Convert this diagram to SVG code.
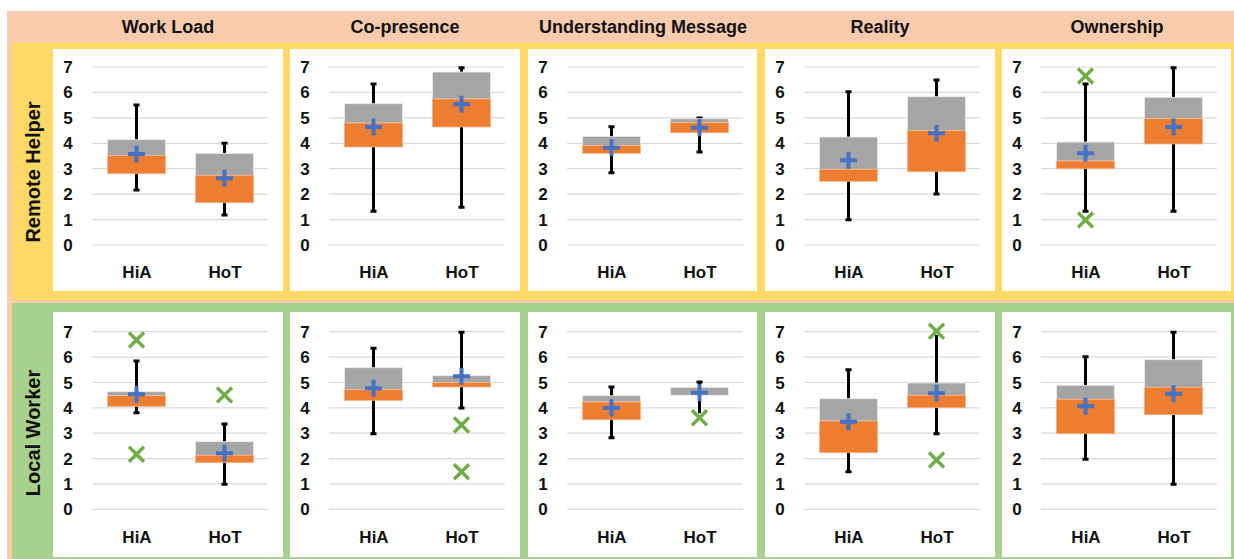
<svg xmlns="http://www.w3.org/2000/svg" xmlns:xlink="http://www.w3.org/1999/xlink" width="1234" height="559" viewBox="0 0 1234 559">
<style>
.t{font-family:"Liberation Sans",Arial,sans-serif;font-weight:bold;fill:#111}
.hd{font-size:18px;text-anchor:middle}
.rl{font-size:20px;text-anchor:middle}
.tk{font-size:17px;text-anchor:middle}
.xl{font-size:17px;text-anchor:middle}
.grid{stroke:#D9D9D9;stroke-width:1.2}
.panel{fill:#fff}
.q3{fill:#A5A5A5;stroke:#EDEDED;stroke-width:0.8}
.q1{fill:#ED7D31;stroke:#F4B183;stroke-width:0.8}
.wh{stroke:#000;stroke-width:3;fill:none}
.mean{stroke:#4472C4;stroke-width:4;fill:none}
.out{stroke:#70AD47;stroke-width:3.5;fill:none}
</style>
<defs>
<path id="plus" d="M-8.5,0H8.5M0,-8.5V8.5" class="mean"/>
<path id="cross" d="M-7.5,-7.5L7.5,7.5M-7.5,7.5L7.5,-7.5" class="out"/>
<g id="gridU" class="grid">
<line x1="39" x2="215" y1="245" y2="245"/><line x1="39" x2="215" y1="219.6" y2="219.6"/><line x1="39" x2="215" y1="194.1" y2="194.1"/><line x1="39" x2="215" y1="168.7" y2="168.7"/><line x1="39" x2="215" y1="143.3" y2="143.3"/><line x1="39" x2="215" y1="117.9" y2="117.9"/><line x1="39" x2="215" y1="92.4" y2="92.4"/><line x1="39" x2="215" y1="67" y2="67"/>
</g>
<g id="ticksU" class="t tk">
<text x="15" y="251">0</text><text x="15" y="225.6">1</text><text x="15" y="200.1">2</text><text x="15" y="174.7">3</text><text x="15" y="149.3">4</text><text x="15" y="123.9">5</text><text x="15" y="98.4">6</text><text x="15" y="73">7</text>
<text x="84" y="278">HiA</text><text x="172" y="278">HoT</text>
</g>
<g id="gridL" class="grid">
<line x1="39" x2="215" y1="509.3" y2="509.3"/><line x1="39" x2="215" y1="483.9" y2="483.9"/><line x1="39" x2="215" y1="458.6" y2="458.6"/><line x1="39" x2="215" y1="433.2" y2="433.2"/><line x1="39" x2="215" y1="407.8" y2="407.8"/><line x1="39" x2="215" y1="382.5" y2="382.5"/><line x1="39" x2="215" y1="357.1" y2="357.1"/><line x1="39" x2="215" y1="331.7" y2="331.7"/>
</g>
<g id="ticksL" class="t tk">
<text x="15" y="515.3">0</text><text x="15" y="489.9">1</text><text x="15" y="464.6">2</text><text x="15" y="439.2">3</text><text x="15" y="413.8">4</text><text x="15" y="388.5">5</text><text x="15" y="363.1">6</text><text x="15" y="337.7">7</text>
<text x="84" y="543">HiA</text><text x="172" y="543">HoT</text>
</g>
</defs>

<g id="background">
<rect x="7" y="11" width="1227" height="548" fill="#F8CBAD"/>
<rect x="12" y="43" width="1222" height="257" fill="#FFD966"/>
<rect x="12" y="303" width="1222" height="256" fill="#A9D18E"/>
</g>

<g id="headers" class="t hd">
<text x="168" y="33">Work Load</text>
<text x="405" y="33">Co-presence</text>
<text x="643" y="33">Understanding Message</text>
<text x="880" y="33">Reality</text>
<text x="1117" y="33">Ownership</text>
</g>
<g id="row-labels" class="t rl">
<text transform="translate(40,172) rotate(-90)">Remote Helper</text>
<text transform="translate(40,433) rotate(-90)">Local Worker</text>
</g>

<!-- Remote Helper row -->
<g id="rh-workload">
<rect class="panel" x="53" y="49" width="230" height="242"/>
<use href="#gridU" x="53"/><use href="#ticksU" x="53"/>
<path class="wh" d="M133.5,105H139.5M136.5,105V190M133.5,190H139.5"/>
<rect class="q3" x="107.5" y="139.7" width="58" height="16"/><rect class="q1" x="107.5" y="155.7" width="58" height="18"/>
<use href="#plus" x="136.5" y="154"/>
<path class="wh" d="M221.5,143.3H227.5M224.5,143.3V215M221.5,215H227.5"/>
<rect class="q3" x="195.5" y="153.3" width="58" height="22"/><rect class="q1" x="195.5" y="175.3" width="58" height="27.4"/>
<use href="#plus" x="224.5" y="178.3"/>
</g>
<g id="rh-copresence">
<rect class="panel" x="290" y="49" width="230" height="242"/>
<use href="#gridU" x="290"/><use href="#ticksU" x="290"/>
<path class="wh" d="M370.5,84H376.5M373.5,84V211.3M370.5,211.3H376.5"/>
<rect class="q3" x="344.5" y="103.7" width="58" height="19.3"/><rect class="q1" x="344.5" y="123" width="58" height="24"/>
<use href="#plus" x="373.5" y="127"/>
<path class="wh" d="M458.5,67.7H464.5M461.5,67.7V207.3M458.5,207.3H464.5"/>
<rect class="q3" x="432.5" y="72" width="58" height="27"/><rect class="q1" x="432.5" y="99" width="58" height="28"/>
<use href="#plus" x="461.5" y="104.3"/>
</g>
<g id="rh-understanding">
<rect class="panel" x="528" y="49" width="229" height="242"/>
<use href="#gridU" x="528"/><use href="#ticksU" x="528"/>
<path class="wh" d="M608.5,126.7H614.5M611.5,126.7V172.7M608.5,172.7H614.5"/>
<rect class="q3" x="582.5" y="136.3" width="58" height="9.4"/><rect class="q1" x="582.5" y="145.7" width="58" height="7.6"/>
<use href="#plus" x="611.5" y="147.7"/>
<path class="wh" d="M696.5,118H702.5M699.5,118V152M696.5,152H702.5"/>
<rect class="q3" x="670.5" y="118.7" width="58" height="4"/><rect class="q1" x="670.5" y="122.7" width="58" height="10"/>
<use href="#plus" x="699.5" y="127.7"/>
</g>
<g id="rh-reality">
<rect class="panel" x="765" y="49" width="230" height="242"/>
<use href="#gridU" x="765"/><use href="#ticksU" x="765"/>
<path class="wh" d="M845.5,91.7H851.5M848.5,91.7V219.7M845.5,219.7H851.5"/>
<rect class="q3" x="819.5" y="137" width="58" height="32.3"/><rect class="q1" x="819.5" y="169.3" width="58" height="12"/>
<use href="#plus" x="848.5" y="160.3"/>
<path class="wh" d="M933.5,80H939.5M936.5,80V194M933.5,194H939.5"/>
<rect class="q3" x="907.5" y="96.7" width="58" height="34"/><rect class="q1" x="907.5" y="130.7" width="58" height="41"/>
<use href="#plus" x="936.5" y="133.3"/>
</g>
<g id="rh-ownership">
<rect class="panel" x="1002" y="49" width="229" height="242"/>
<use href="#gridU" x="1002"/><use href="#ticksU" x="1002"/>
<path class="wh" d="M1082.5,84H1088.5M1085.5,84V211.3M1082.5,211.3H1088.5"/>
<rect class="q3" x="1056.5" y="142" width="58" height="19"/><rect class="q1" x="1056.5" y="161" width="58" height="7.7"/>
<use href="#plus" x="1085.5" y="153.3"/>
<use href="#cross" x="1085.5" y="76"/><use href="#cross" x="1085.5" y="220"/>
<path class="wh" d="M1170.5,67.7H1176.5M1173.5,67.7V211.3M1170.5,211.3H1176.5"/>
<rect class="q3" x="1144.5" y="97.3" width="58" height="21.4"/><rect class="q1" x="1144.5" y="118.7" width="58" height="25.3"/>
<use href="#plus" x="1173.5" y="127"/>
</g>

<!-- Local Worker row -->
<g id="lw-workload">
<rect class="panel" x="53" y="312" width="230" height="245"/>
<use href="#gridL" x="53"/><use href="#ticksL" x="53"/>
<path class="wh" d="M133.5,361H139.5M136.5,361V412.7M133.5,412.7H139.5"/>
<rect class="q3" x="107.5" y="391.7" width="58" height="4"/><rect class="q1" x="107.5" y="395.7" width="58" height="10.6"/>
<use href="#plus" x="136.5" y="394.3"/>
<use href="#cross" x="136.5" y="340"/><use href="#cross" x="136.5" y="454.3"/>
<path class="wh" d="M221.5,424H227.5M224.5,424V484.3M221.5,484.3H227.5"/>
<rect class="q3" x="195.5" y="441.7" width="58" height="13.6"/><rect class="q1" x="195.5" y="455.3" width="58" height="7.4"/>
<use href="#plus" x="224.5" y="453.3"/>
<use href="#cross" x="224.5" y="395"/>
</g>
<g id="lw-copresence">
<rect class="panel" x="290" y="312" width="230" height="245"/>
<use href="#gridL" x="290"/><use href="#ticksL" x="290"/>
<path class="wh" d="M370.5,348.3H376.5M373.5,348.3V433.7M370.5,433.7H376.5"/>
<rect class="q3" x="344.5" y="367.7" width="58" height="22"/><rect class="q1" x="344.5" y="389.7" width="58" height="10.6"/>
<use href="#plus" x="373.5" y="388.3"/>
<path class="wh" d="M458.5,332.3H464.5M461.5,332.3V408M458.5,408H464.5"/>
<rect class="q3" x="432.5" y="375.7" width="58" height="7"/><rect class="q1" x="432.5" y="382.7" width="58" height="4.3"/>
<use href="#plus" x="461.5" y="376.3"/>
<use href="#cross" x="461.5" y="425"/><use href="#cross" x="461.5" y="471.7"/>
</g>
<g id="lw-understanding">
<rect class="panel" x="528" y="312" width="229" height="245"/>
<use href="#gridL" x="528"/><use href="#ticksL" x="528"/>
<path class="wh" d="M608.5,387H614.5M611.5,387V437.7M608.5,437.7H614.5"/>
<rect class="q3" x="582.5" y="395.7" width="58" height="6.3"/><rect class="q1" x="582.5" y="402" width="58" height="17.7"/>
<use href="#plus" x="611.5" y="408"/>
<rect class="q3" x="670.5" y="387.3" width="58" height="8"/>
<path class="wh" d="M696.5,382H702.5M699.5,382V413.3"/>
<use href="#plus" x="699.5" y="392.7"/>
<use href="#cross" x="699.5" y="417.7"/>
</g>
<g id="lw-reality">
<rect class="panel" x="765" y="312" width="230" height="245"/>
<use href="#gridL" x="765"/><use href="#ticksL" x="765"/>
<path class="wh" d="M845.5,369.7H851.5M848.5,369.7V471.7M845.5,471.7H851.5"/>
<rect class="q3" x="819.5" y="398.7" width="58" height="22.3"/><rect class="q1" x="819.5" y="421" width="58" height="31.7"/>
<use href="#plus" x="848.5" y="421.7"/>
<path class="wh" d="M936.5,335V433.7M933.5,433.7H939.5"/>
<rect class="q3" x="907.5" y="383" width="58" height="12.3"/><rect class="q1" x="907.5" y="395.3" width="58" height="12.4"/>
<use href="#plus" x="936.5" y="393.3"/>
<use href="#cross" x="936.5" y="331.3"/><use href="#cross" x="936.5" y="460"/>
</g>
<g id="lw-ownership">
<rect class="panel" x="1002" y="312" width="229" height="245"/>
<use href="#gridL" x="1002"/><use href="#ticksL" x="1002"/>
<path class="wh" d="M1082.5,356.7H1088.5M1085.5,356.7V459.3M1082.5,459.3H1088.5"/>
<rect class="q3" x="1056.5" y="385.3" width="58" height="14"/><rect class="q1" x="1056.5" y="399.3" width="58" height="34.4"/>
<use href="#plus" x="1085.5" y="406.3"/>
<path class="wh" d="M1170.5,332.3H1176.5M1173.5,332.3V484.3M1170.5,484.3H1176.5"/>
<rect class="q3" x="1144.5" y="359.7" width="58" height="27.6"/><rect class="q1" x="1144.5" y="387.3" width="58" height="27.4"/>
<use href="#plus" x="1173.5" y="393.7"/>
</g>
</svg>
